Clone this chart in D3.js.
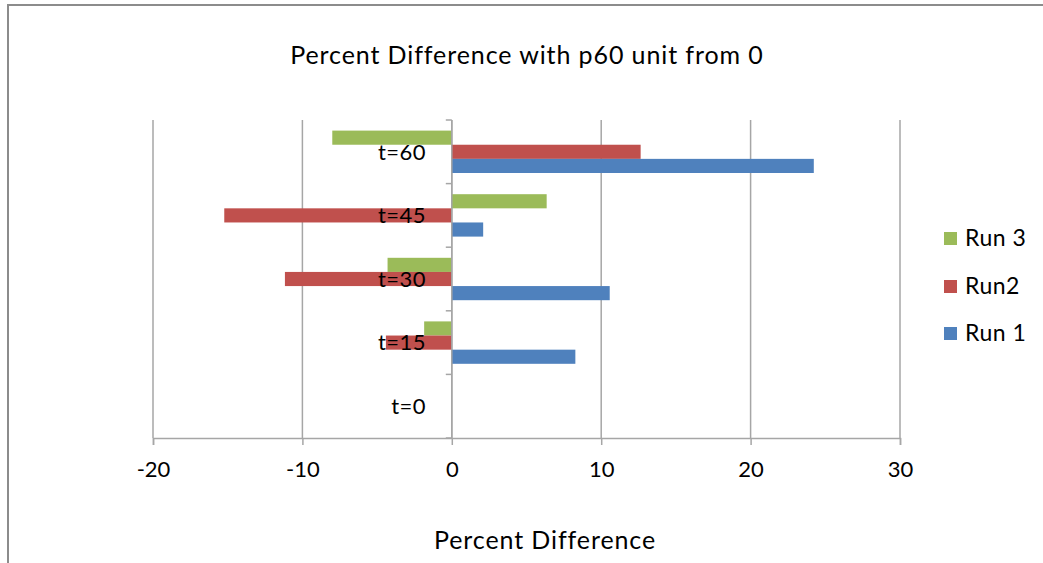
<!DOCTYPE html>
<html>
<head>
<meta charset="utf-8">
<script src="https://cdn.jsdelivr.net/npm/d3@7"></script>
<style>
  html, body { margin: 0; padding: 0; background: #fff; }
  svg { display: block; font-family: Lato, "Open Sans", sans-serif; }
</style>
</head>
<body>
<svg id="chart" width="1043" height="563"></svg>
<script>
// Time points, bottom to top on the category axis
const categories = ["t=0", "t=15", "t=30", "t=45", "t=60"];
// Series names (legend order top to bottom)
const seriesNames = ["Run 3", "Run2", "Run 1"];
const seriesColors = ["#9BBB59", "#C0504D", "#4F81BD"];
// Percent difference per time point for each run
const run1 = [0, 8.27, 10.57, 2.1, 24.23];
const run2 = [0, -4.41, -11.17, -15.23, 12.64];
const run3 = [0, -1.85, -4.3, 6.35, -8.0];
const xTicks = [-20, -10, 0, 10, 20, 30];

const seriesValues = [run3, run2, run1];

const svg = d3.select("#chart");

// outer frame (top and left edges visible)
svg.append("path")
  .attr("d", "M8,1100 L8,5 L1100,5")
  .attr("fill", "none")
  .attr("stroke", "#8c8c8c")
  .attr("stroke-width", 2);

const plot = { left: 153, right: 900, top: 120, bottom: 438 };

const x = d3.scaleLinear().domain([-20, 30]).range([plot.left, plot.right]);

// categories run bottom (t=0) to top (t=60)
const y = d3.scaleBand()
  .domain(categories)
  .range([plot.bottom, plot.top])
  .padding(0);

// gap width 150% of a bar: 3 bars + 1.5 bar gap per band
const barH = y.bandwidth() / 4.5;
const inner = d3.scaleBand()
  .domain(seriesNames)
  .range([barH * 0.75, barH * 3.75])
  .padding(0);

const grid = "#a6a6a6";

// vertical gridlines
svg.append("g")
  .selectAll("line")
  .data(xTicks)
  .join("line")
  .attr("x1", d => x(d)).attr("x2", d => x(d))
  .attr("y1", plot.top).attr("y2", plot.bottom)
  .attr("stroke", grid)
  .attr("stroke-width", 1.5);

// bars
const bars = svg.append("g");
seriesNames.forEach((name, si) => {
  bars.append("g")
    .attr("fill", seriesColors[si])
    .selectAll("rect")
    .data(categories.map((c, i) => ({ c, v: seriesValues[si][i] })))
    .join("rect")
    .attr("x", d => Math.min(x(0), x(d.v)))
    .attr("width", d => Math.abs(x(d.v) - x(0)))
    .attr("y", d => y(d.c) + inner(name))
    .attr("height", inner.bandwidth());
});

// bottom value axis
const xAxis = svg.append("g")
  .attr("transform", `translate(0,${plot.bottom})`)
  .call(d3.axisBottom(x).tickValues(xTicks).tickSize(7).tickPadding(16).tickFormat(d => String(d)));
xAxis.select(".domain").attr("stroke", grid).attr("stroke-width", 1.5);
xAxis.selectAll(".tick line").attr("stroke", grid).attr("stroke-width", 1.5);
xAxis.selectAll(".tick text")
  .attr("fill", "#000")
  .style("font-size", "22px")
  .style("font-family", "Lato, sans-serif");

// category axis at zero
const yAxis = svg.append("g")
  .attr("transform", `translate(${x(0)},0)`);
yAxis.append("line")
  .attr("x1", 0).attr("x2", 0)
  .attr("y1", plot.top).attr("y2", plot.bottom)
  .attr("stroke", grid).attr("stroke-width", 1.5);
const bounds = categories.map(c => y(c)).concat([plot.bottom]);
yAxis.selectAll("line.tk")
  .data(bounds)
  .join("line")
  .attr("class", "tk")
  .attr("x1", -6).attr("x2", 0)
  .attr("y1", d => d).attr("y2", d => d)
  .attr("stroke", grid).attr("stroke-width", 1.5);
yAxis.selectAll("text")
  .data(categories)
  .join("text")
  .attr("x", -26)
  .attr("y", d => y(d) + y.bandwidth() / 2)
  .attr("dy", "0.35em")
  .attr("text-anchor", "end")
  .attr("fill", "#000")
  .style("font-size", "22px")
  .style("letter-spacing", "0.4px")
  .text(d => d);

// title
svg.append("text")
  .attr("x", 527)
  .attr("y", 64)
  .attr("text-anchor", "middle")
  .style("font-size", "25px")
  .style("letter-spacing", "0.9px")
  .text("Percent Difference with p60 unit from 0");

// value axis title
svg.append("text")
  .attr("x", 545)
  .attr("y", 549)
  .attr("text-anchor", "middle")
  .style("font-size", "25px")
  .style("letter-spacing", "0.9px")
  .text("Percent Difference");

// legend
const legend = svg.append("g");
const legendY = [238, 286, 333];
seriesNames.forEach((name, i) => {
  legend.append("rect")
    .attr("x", 944).attr("y", legendY[i] - 6)
    .attr("width", 13).attr("height", 13)
    .attr("fill", seriesColors[i]);
  legend.append("text")
    .attr("x", 965).attr("y", legendY[i])
    .attr("dy", "0.35em")
    .style("font-size", "23px")
    .style("letter-spacing", "0.5px")
    .text(name);
});
</script>
</body>
</html>
